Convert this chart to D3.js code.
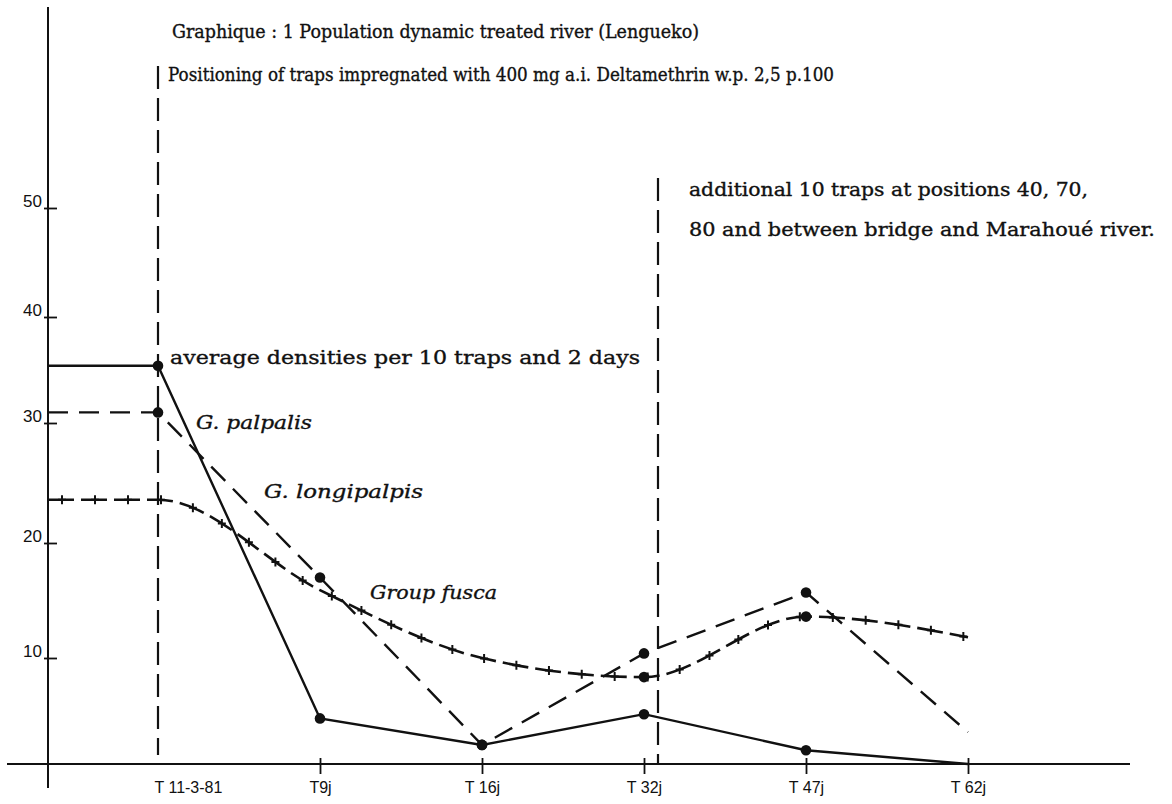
<!DOCTYPE html>
<html><head><meta charset="utf-8">
<script src="https://cdn.jsdelivr.net/npm/d3@7"></script>
<style>body{margin:0;background:#fff}svg{display:block;background:#fff}</style>
</head><body><svg id="c" width="1172" height="804"></svg>
<script>
// ---- data ----
const categories = ["T 11-3-81", "T9j", "T 16j", "T 32j", "T 47j", "T 62j"];
const yTicks = [10, 20, 30, 40, 50];
const palpalis = [35.4, 4.3, 1.8, 4.7, 1.3, 0];       // solid line
const longipalpis = [31.0, 17.0, 1.8, 10.4, 15.7, 3.0]; // dashed line
const fusca = [23.6, 15.9, 10.0, 8.2, 13.6, 11.8];    // dash + crosses
const palpalisDots = [0, 1, 2, 3, 4];
const longipalpisDots = [0, 1, 2, 3, 4];
const fuscaDots = [3, 4];
const titleLines = [
  "Graphique : 1 Population dynamic treated river (Lengueko)",
  "Positioning of traps impregnated with 400 mg  a.i. Deltamethrin w.p. 2,5 p.100"
];
const noteLines = [
  "additional 10 traps at positions 40, 70,",
  "80 and between bridge and Marahoué river."
];
const densityNote = "average densities per 10 traps and 2 days";
const seriesNames = ["G. palpalis", "G. longipalpis", "Group fusca"];

// ---- layout ----
const svg = d3.select("#c");
const ink = "#111";
const axisX = 48, axisY = 764;
const y = d3.scaleLinear().domain([0, 10, 20, 30, 40, 50]).range([764, 658, 543, 423, 317, 208]);
const x = d3.scalePoint().domain(categories).range([158, 968]);

// axes lines
svg.append("line").attr("x1", axisX).attr("x2", axisX).attr("y1", 7).attr("y2", 788)
  .attr("stroke", ink).attr("stroke-width", 2);
svg.append("line").attr("x1", 7).attr("x2", 1130).attr("y1", axisY).attr("y2", axisY)
  .attr("stroke", ink).attr("stroke-width", 2.2);

// y axis
const gy = svg.append("g").attr("transform", `translate(${axisX},0)`)
  .call(d3.axisLeft(y).tickValues(yTicks).tickSize(0).tickPadding(6));
gy.select(".domain").remove();
gy.selectAll(".tick line").attr("x1", -4).attr("x2", 9).attr("stroke", ink).attr("stroke-width", 1.8);
gy.selectAll(".tick text").style("font-family", "Liberation Sans, Arial, sans-serif")
  .style("font-size", "17px").attr("fill", ink).attr("dy", "-0.1em");

// x axis
const gx = svg.append("g").attr("transform", `translate(0,${axisY})`)
  .call(d3.axisBottom(x).tickSize(0).tickPadding(29));
gx.select(".domain").remove();
gx.selectAll(".tick line").attr("y1", -6).attr("y2", 10).attr("stroke", ink).attr("stroke-width", 1.8);
gx.selectAll(".tick").filter((d, i) => i === 0).select("line").remove();
gx.selectAll(".tick text").style("font-family", "Liberation Sans, Arial, sans-serif")
  .style("font-size", "16px").attr("fill", ink).attr("dy", "0");
gx.selectAll(".tick").filter((d, i) => i === 0).select("text").attr("text-anchor", "start").attr("x", -4);

// vertical dashed markers
svg.append("line").attr("x1", x(categories[0])).attr("x2", x(categories[0])).attr("y1", 66).attr("y2", 755)
  .attr("stroke", ink).attr("stroke-width", 2.2).attr("stroke-dasharray", "23,9");
svg.append("line").attr("x1", x(categories[3]) + 14).attr("x2", x(categories[3]) + 14).attr("y1", 178).attr("y2", axisY)
  .attr("stroke", ink).attr("stroke-width", 2.2).attr("stroke-dasharray", "23,9");

// series
function pts(vals) {
  return [[axisX, y(vals[0])]].concat(categories.map((c, i) => [x(c), y(vals[i])]));
}
const linear = d3.line();
const smooth = d3.line().curve(d3.curveMonotoneX);

svg.append("path").attr("d", linear(pts(palpalis))).attr("fill", "none")
  .attr("stroke", ink).attr("stroke-width", 2.4);
svg.append("path").attr("d", linear(pts(longipalpis))).attr("fill", "none")
  .attr("stroke", ink).attr("stroke-width", 2.4).attr("stroke-dasharray", "20,11");
const fp = svg.append("path").attr("d", smooth(pts(fusca))).attr("fill", "none")
  .attr("stroke", ink).attr("stroke-width", 2.6).attr("stroke-dasharray", "26,7");

// crosses along fusca line
const node = fp.node(), L = node.getTotalLength();
const crosses = [];
for (let l = 14; l < L - 4; l += 33) crosses.push(node.getPointAtLength(l));
svg.append("g").selectAll("path").data(crosses).join("path")
  .attr("d", p => `M${p.x - 4},${p.y}H${p.x + 4}M${p.x},${p.y - 4.5}V${p.y + 4.5}`)
  .attr("stroke", ink).attr("stroke-width", 2);

// dots
function dots(vals, idx) {
  svg.append("g").selectAll("circle").data(idx).join("circle")
    .attr("cx", i => x(categories[i])).attr("cy", i => y(vals[i])).attr("r", 5.3).attr("fill", ink);
}
dots(palpalis, palpalisDots);
dots(longipalpis, longipalpisDots);
dots(fusca, fuscaDots);

// texts
const serif = "DejaVu Serif, Liberation Serif, serif";
function txt(s, tx, ty, len, size, italic) {
  svg.append("text").attr("x", tx).attr("y", ty).text(s)
    .style("font-family", serif).style("font-size", size + "px").attr("fill", ink)
    .attr("stroke", ink).attr("stroke-width", 0.35)
    .style("font-style", italic ? "italic" : "normal")
    .attr("textLength", len).attr("lengthAdjust", "spacingAndGlyphs");
}
txt(titleLines[0], 172, 38, 527, 18.5, false);
txt(titleLines[1], 168, 81, 666, 18.5, false);
txt(noteLines[0], 689, 196, 399, 18, false);
txt(noteLines[1], 689, 236, 466, 18, false);
txt(densityNote, 170, 364, 470, 19, false);
txt(seriesNames[0], 196, 429, 116, 18, true);
txt(seriesNames[1], 264, 498, 159, 18, true);
txt(seriesNames[2], 370, 599, 127, 18, true);
</script>
</body></html>
